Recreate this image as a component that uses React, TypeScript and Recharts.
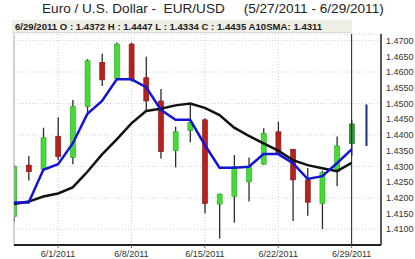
import React from "react";
import {
  Bar,
  CartesianGrid,
  ComposedChart,
  Line,
  ReferenceLine,
  XAxis,
  YAxis,
} from "recharts";

const dates = [
  "5/27/2011", "5/30/2011", "5/31/2011", "6/1/2011", "6/2/2011", "6/3/2011",
  "6/6/2011", "6/7/2011", "6/8/2011", "6/9/2011", "6/10/2011", "6/13/2011",
  "6/14/2011", "6/15/2011", "6/16/2011", "6/17/2011", "6/20/2011", "6/21/2011",
  "6/22/2011", "6/23/2011", "6/24/2011", "6/27/2011", "6/28/2011", "6/29/2011",
];
const opens = [
  1.414, 1.4304, 1.4291, 1.4395, 1.4328, 1.449, 1.4631, 1.458, 1.4689, 1.4582,
  1.4508, 1.435, 1.4414, 1.4448, 1.418, 1.4204, 1.4251, 1.4307, 1.441, 1.4354,
  1.4257, 1.4182, 1.4283, 1.4372,
];
const highs = [
  1.4305, 1.4333, 1.4423, 1.4456, 1.4511, 1.4641, 1.4658, 1.4694, 1.4694, 1.4649,
  1.4546, 1.4426, 1.4498, 1.4453, 1.4214, 1.4336, 1.4328, 1.4421, 1.4442, 1.4356,
  1.4295, 1.4286, 1.4395, 1.4447,
];
const lows = [
  1.4124, 1.4255, 1.4286, 1.432, 1.4307, 1.4471, 1.4556, 1.4575, 1.457, 1.4477,
  1.4324, 1.4297, 1.4377, 1.4151, 1.4071, 1.4121, 1.4188, 1.4305, 1.4338, 1.4126,
  1.4143, 1.4101, 1.4238, 1.4334,
];
const closes = [
  1.43, 1.4283, 1.4391, 1.4331, 1.449, 1.4636, 1.4575, 1.4689, 1.4575, 1.4508,
  1.4347, 1.441, 1.4439, 1.4182, 1.4212, 1.4299, 1.4299, 1.4405, 1.4342, 1.4257,
  1.4186, 1.428, 1.4365, 1.4435,
];
// blue moving average
const fastMa = [
  1.4185, 1.4185, 1.4289, 1.4307, 1.4373, 1.4467, 1.4508, 1.4577, 1.4577, 1.4552,
  1.448, 1.4448, 1.4448, 1.4368, 1.4296, 1.4296, 1.4299, 1.4339, 1.4339, 1.431,
  1.426, 1.4269, 1.431, 1.4354,
];
// black A10SMA
const sma10 = [
  1.418, 1.4188, 1.4204, 1.4214, 1.4233, 1.4283, 1.4338, 1.4386, 1.4437, 1.4476,
  1.4483, 1.4494, 1.45, 1.4486, 1.4463, 1.4423, 1.4397, 1.4373, 1.435, 1.432,
  1.4304, 1.4294, 1.4285, 1.4311,
];
const projLow = 1.4365;
const projHigh = 1.4497;

const yTicks = [
  1.41, 1.415, 1.42, 1.425, 1.43, 1.435, 1.44, 1.445, 1.45, 1.455, 1.46, 1.465, 1.47,
];
const xTicks = [3, 8, 13, 18, 23];

const rows = [
  ...dates.map((d, i) => ({
    i,
    date: d,
    kind: "candle",
    open: opens[i],
    high: highs[i],
    low: lows[i],
    close: closes[i],
    ma: fastMa[i],
    sma: sma10[i],
  })),
  { i: 24, date: "", kind: "proj", open: projLow, high: projHigh, low: projLow, close: projHigh },
];

const FONT = '"Liberation Sans", Arial, sans-serif';

function Candle(props: any) {
  const { x, y, width, height, payload } = props;
  const cx = x + width / 2;
  if (payload.kind === "proj") {
    return <line x1={cx} x2={cx} y1={y} y2={y + height} stroke="#1c2c82" strokeWidth={2} />;
  }
  const { open, close, high, low, i } = payload;
  const span = high - low || 1e-6;
  const yOf = (v: number) => y + ((high - v) / span) * height;
  const up = close >= open;
  const top = yOf(Math.max(open, close));
  const bot = yOf(Math.min(open, close));
  const fill = up ? (i === 23 ? "#2e9a3a" : "#44dc34") : "#b8201e";
  const edge = up ? (i === 23 ? "#1f6e28" : "#2aa02a") : "#7e1412";
  return (
    <g clipPath="url(#plotClip)">
      <line x1={cx} x2={cx} y1={y} y2={y + height} stroke="#2b2b2b" strokeWidth={1.3} />
      <rect x={cx - 2.5} y={top} width={5} height={Math.max(bot - top, 1.5)} fill={fill} stroke={edge} strokeWidth={0.6} />
    </g>
  );
}

export default function App() {
  return (
    <div style={{ position: "absolute", left: 0, top: 0, width: 415, height: 259, background: "#fff", fontFamily: FONT }}>
      <div
        style={{
          position: "absolute",
          left: 0,
          top: 1,
          width: 415,
          textAlign: "left",
          paddingLeft: 42,
          fontSize: 13.6,
          color: "#222",
          whiteSpace: "pre",
          lineHeight: "16px",
        }}
      >
        {"Euro / U.S. Dollar -  EUR/USD     (5/27/2011 - 6/29/2011)"}
      </div>
      <div
        style={{
          position: "absolute",
          left: 12,
          top: 20,
          width: 340,
          height: 13,
          background: "#efeee7",
          borderBottom: "1px solid #dddcd2",
          fontSize: 9.6,
          fontWeight: "bold",
          color: "#222",
          lineHeight: "13px",
          paddingLeft: 3,
          boxSizing: "border-box",
          whiteSpace: "pre",
          zIndex: 2,
        }}
      >
        {"6/29/2011 O : 1.4372 H : 1.4447 L : 1.4334 C : 1.4435 A10SMA: 1.4311"}
      </div>
      <ComposedChart
        width={415}
        height={259}
        data={rows}
        margin={{ top: 34, right: 0, left: 14, bottom: 0 }}
        style={{ position: "absolute", left: 0, top: 0 }}
      >
        <defs>
          <clipPath id="plotClip">
            <rect x={14} y={34} width={367} height={211} />
          </clipPath>
        </defs>
        <CartesianGrid stroke="#cfcfcf" strokeDasharray="1 2" />
        <XAxis
          dataKey="i"
          type="number"
          domain={[0, 25]}
          allowDataOverflow
          ticks={xTicks}
          tickFormatter={(v: number) => dates[v] ?? ""}
          height={14}
          tickSize={3}
          tickMargin={3}
          interval={0}
          axisLine={{ stroke: "#222", strokeWidth: 2 }}
          tickLine={{ stroke: "#666" }}
          tick={{ fill: "#333", fontSize: 9, fontFamily: FONT }}
        />
        <YAxis
          orientation="right"
          domain={[1.405, 1.4721]}
          allowDataOverflow
          ticks={yTicks}
          tickFormatter={(v: number) => v.toFixed(4)}
          width={34}
          tickSize={0}
          tickMargin={5}
          axisLine={{ stroke: "#222", strokeWidth: 1.5 }}
          tick={{ fill: "#333", fontSize: 9, fontFamily: FONT, textAnchor: "start" }}
        />
        <ReferenceLine x={0} stroke="#b0b0b0" />
        <ReferenceLine x={23} stroke="#222" />
        <Bar
          dataKey={(d: any) => [d.low, d.high]}
          barSize={5}
          shape={<Candle />}
          isAnimationActive={false}
        />
        <Line
          dataKey="sma"
          type="linear"
          stroke="#111"
          strokeWidth={2.5}
          dot={false}
          isAnimationActive={false}
        />
        <Line
          dataKey="ma"
          type="linear"
          stroke="#1414d8"
          strokeWidth={2.5}
          dot={false}
          isAnimationActive={false}
        />
      </ComposedChart>
    </div>
  );
}
